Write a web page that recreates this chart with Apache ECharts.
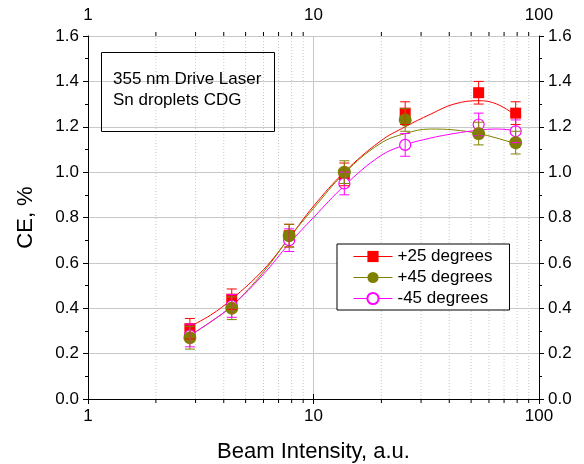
<!DOCTYPE html>
<html><head><meta charset="utf-8">
<script src="https://cdn.jsdelivr.net/npm/echarts@6/dist/echarts.min.js"></script>
<style>html,body{margin:0;padding:0;background:#fff}#c{width:584px;height:464px}</style>
</head><body><div id="c"></div>
<script>
// ---- data ----
const xValues = [2.83, 4.34, 7.8, 13.7, 25.5, 54, 78.8];
const ce25  = [0.31, 0.44, 0.72, 0.99, 1.26, 1.35, 1.26];
const err25 = [0.045, 0.045, 0.05, 0.05, 0.05, 0.05, 0.05];
const ce45  = [0.27, 0.40, 0.72, 1.00, 1.23, 1.17, 1.13];
const err45 = [0.05, 0.05, 0.05, 0.05, 0.05, 0.05, 0.05];
const ceM45 = [0.28, 0.41, 0.70, 0.95, 1.12, 1.21, 1.18];
const errM45 = [0.05, 0.05, 0.05, 0.05, 0.05, 0.05, 0.05];

const fitX    = [2.83, 3.5, 4.34, 6, 7.8, 10, 13.7, 19.7, 25.5, 33, 42, 54, 65, 78.8];
const fit25   = [0.32, 0.37, 0.44, 0.57, 0.71, 0.85, 1.00, 1.135, 1.20, 1.255, 1.30, 1.315, 1.30, 1.25];
const fit45   = [0.28, 0.34, 0.41, 0.56, 0.71, 0.84, 0.995, 1.125, 1.17, 1.19, 1.186, 1.17, 1.15, 1.125];
const fitM45  = [0.28, 0.34, 0.41, 0.55, 0.685, 0.80, 0.94, 1.07, 1.12, 1.15, 1.17, 1.185, 1.19, 1.183];

const minorX = [2, 3, 4, 5, 6, 7, 8, 9, 20, 30, 40, 50, 60, 70, 80, 90];
const seriesNames = ['+25 degrees', '+45 degrees', '-45 degrees'];
const annotation = '355 nm Drive Laser\nSn droplets CDG';
const xTitle = 'Beam Intensity, a.u.';
const yTitle = 'CE, %';

const FONT = '"Liberation Sans", Arial, sans-serif';
const RED = '#ff0000', OLIVE = '#808000', MAG = '#ff00ff';

const zip = (xs, ys) => xs.map((x, i) => [x, ys[i]]);

function errSeries(vals, errs, color) {
  return {
    type: 'custom', silent: true, z: 6, clip: false,
    data: xValues.map((x, i) => [x, vals[i], errs[i]]),
    encode: { x: 0, y: 1 },
    renderItem: (params, api) => {
      const x = api.value(0), y = api.value(1), e = api.value(2);
      const t = api.coord([x, y + e]), b = api.coord([x, y - e]);
      const w = 5, st = { stroke: color, lineWidth: 1 };
      return { type: 'group', children: [
        { type: 'line', shape: { x1: t[0], y1: t[1], x2: b[0], y2: b[1] }, style: st },
        { type: 'line', shape: { x1: t[0] - w, y1: t[1], x2: t[0] + w, y2: t[1] }, style: st },
        { type: 'line', shape: { x1: b[0] - w, y1: b[1], x2: b[0] + w, y2: b[1] }, style: st }
      ]};
    }
  };
}

function fitSeries(vals, color) {
  return { type: 'line', data: zip(fitX, vals), smooth: 0.4, symbol: 'none', silent: true, z: 3,
    lineStyle: { color: color, width: 1 } };
}

function pointSeries(name, vals, symbol, size, itemStyle) {
  return { type: 'line', name: name, data: zip(xValues, vals), symbol: symbol, symbolSize: size,
    showAllSymbol: true, z: 5, lineStyle: { width: 0, opacity: 0, color: itemStyle.borderColor || itemStyle.color },
    itemStyle: itemStyle, emphasis: { disabled: true } };
}

const minorGrid = {
  type: 'custom', silent: true, z: 1, clip: false,
  data: minorX.map(x => [x, 0]),
  encode: { x: 0, y: 1 },
  renderItem: (params, api) => {
    const x = api.value(0);
    const b = api.coord([x, 0]), t = api.coord([x, 1.6]);
    return { type: 'group', children: [
      { type: 'line', shape: { x1: b[0], y1: b[1], x2: t[0], y2: t[1] },
        style: { stroke: '#c8c8c8', lineWidth: 1, lineDash: [1, 2] } },
      { type: 'line', shape: { x1: b[0], y1: b[1], x2: b[0], y2: b[1] + 4 },
        style: { stroke: '#000', lineWidth: 1 } },
      { type: 'line', shape: { x1: t[0], y1: t[1], x2: t[0], y2: t[1] - 4 },
        style: { stroke: '#000', lineWidth: 1 } }
    ]};
  }
};

const axisLineStyle = { lineStyle: { color: '#000', width: 1 } };
const labelStyle = { fontSize: 17, fontFamily: FONT, color: '#000' };

const option = {
  animation: false,
  backgroundColor: '#fff',
  grid: { left: 88, right: 45, top: 36, bottom: 65, containLabel: false, outerBoundsMode: 'none' },
  title: {
    text: annotation, left: 101, top: 52, padding: [17, 13, 21, 12],
    borderColor: '#000', borderWidth: 1,
    textStyle: { fontSize: 17, fontWeight: 'normal', fontFamily: FONT, color: '#000', lineHeight: 21 }
  },
  legend: {
    orient: 'vertical', left: 337, top: 244, padding: [4, 17, 3, 16], itemGap: 4,
    itemWidth: 39, itemHeight: 14, borderColor: '#000', borderWidth: 1, backgroundColor: '#fff',
    textStyle: { fontSize: 17, fontFamily: FONT, color: '#000' },
    data: [
      { name: seriesNames[0], lineStyle: { width: 1, opacity: 1, color: RED } },
      { name: seriesNames[1], lineStyle: { width: 1, opacity: 1, color: OLIVE } },
      { name: seriesNames[2], lineStyle: { width: 1, opacity: 1, color: MAG } }
    ]
  },
  xAxis: [
    { type: 'log', logBase: 10, min: 1, max: 100, position: 'bottom',
      name: xTitle, nameLocation: 'middle', nameGap: 42,
      nameTextStyle: { fontSize: 22, fontFamily: FONT, color: '#000' },
      axisLine: axisLineStyle, axisTick: { length: 5, lineStyle: { color: '#000' } },
      axisLabel: Object.assign({ margin: 9 }, labelStyle),
      splitLine: { show: true, lineStyle: { color: '#c8c8c8', width: 1 } } },
    { type: 'log', logBase: 10, min: 1, max: 100, position: 'top',
      axisLine: axisLineStyle, axisTick: { length: 5, lineStyle: { color: '#000' } },
      axisLabel: Object.assign({ margin: 12 }, labelStyle),
      splitLine: { show: false } }
  ],
  yAxis: [
    { type: 'value', min: 0, max: 1.6, interval: 0.2, position: 'left',
      name: yTitle, nameLocation: 'middle', nameGap: 51,
      nameTextStyle: { fontSize: 22, fontFamily: FONT, color: '#000' },
      axisLine: Object.assign({ show: true }, axisLineStyle),
      axisTick: { show: true, length: 5, lineStyle: { color: '#000' } },
      minorTick: { show: true, splitNumber: 2, length: 3, lineStyle: { color: '#000' } },
      axisLabel: Object.assign({ margin: 9, formatter: v => v.toFixed(1) }, labelStyle),
      splitLine: { show: true, lineStyle: { color: '#c8c8c8', width: 1 } } },
    { type: 'value', min: 0, max: 1.6, interval: 0.2, position: 'right',
      axisLine: Object.assign({ show: true }, axisLineStyle),
      axisTick: { show: true, length: 5, lineStyle: { color: '#000' } },
      minorTick: { show: true, splitNumber: 2, length: 3, lineStyle: { color: '#000' } },
      axisLabel: Object.assign({ margin: 9, formatter: v => v.toFixed(1) }, labelStyle),
      splitLine: { show: false } }
  ],
  series: [
    minorGrid,
    fitSeries(fit25, RED),
    fitSeries(fit45, OLIVE),
    fitSeries(fitM45, MAG),
    pointSeries(seriesNames[0], ce25, 'rect', 11, { color: RED }),
    pointSeries(seriesNames[2], ceM45, 'circle', 11, { color: '#fff', borderColor: MAG, borderWidth: 1.2 }),
    pointSeries(seriesNames[1], ce45, 'circle', 13, { color: OLIVE }),
    errSeries(ce25, err25, RED),
    errSeries(ceM45, errM45, MAG),
    errSeries(ce45, err45, OLIVE)
  ]
};

const chart = echarts.init(document.getElementById('c'), null, { renderer: 'canvas' });
chart.setOption(option);
</script>
</body></html>
